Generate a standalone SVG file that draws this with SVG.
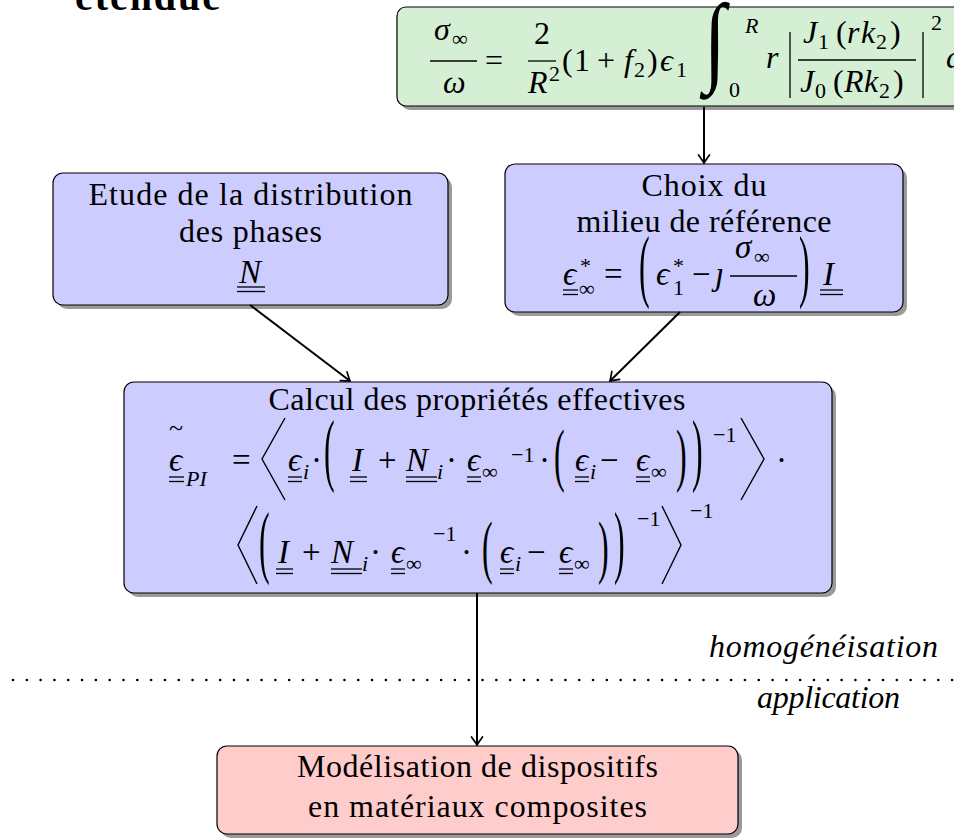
<svg xmlns="http://www.w3.org/2000/svg" width="954" height="839" viewBox="0 0 954 839">
<defs>
<style>
.tx{font-family:"Liberation Serif","DejaVu Serif",serif;font-size:32px;fill:#000}
.m{font-size:33px}
.it{font-style:italic}
.sm{font-size:22px}
.c{text-anchor:middle}
.ig{font-family:"Liberation Serif",serif;font-size:100px}
.ul{stroke:#000;stroke-width:1.3}
.bar{stroke:#000;stroke-width:1.3}
.dl{stroke:#000;stroke-width:1.4;fill:none;stroke-linejoin:miter}
.box{stroke:#000;stroke-width:1.2}
.sh{fill:#9a9a9a}
.con{stroke:#000;stroke-width:2;fill:none}
</style>
<marker id="ah" viewBox="-10 -7 12 14" refX="0" refY="0" markerWidth="12" markerHeight="14" orient="auto" markerUnits="userSpaceOnUse">
<path d="M -8 -5.5 Q -2.5 -1.5 0 0 Q -2.5 1.5 -8 5.5" fill="none" stroke="#000" stroke-width="1.7" stroke-linecap="round"/>
</marker>
</defs>
<rect width="954" height="839" fill="#fff"/>

<text class="tx" x="75" y="10" style="font-weight:bold;font-size:40px" textLength="145">étendue</text>

<g id="sigma">
<rect class="sh" x="401" y="11" width="600" height="99" rx="9"/>
<rect class="box" x="397" y="7" width="600" height="99" rx="9" fill="#d5efd5"/>
<text class="tx it" x="434" y="40">σ</text><text class="tx sm" x="452" y="46">∞</text>
<line class="bar" x1="430" y1="61" x2="477" y2="61"/>
<text class="tx it" x="443" y="93">ω</text>
<text class="tx" x="485" y="71">=</text>
<text class="tx" x="534" y="44">2</text>
<line class="bar" x1="528" y1="61" x2="556" y2="61"/>
<text class="tx it" x="528" y="93">R</text><text class="tx sm" x="549" y="81">2</text>
<text class="tx" x="562" y="71">(</text><text class="tx" x="574" y="71">1</text><text class="tx" x="597" y="71">+</text>
<text class="tx it" x="624" y="71">f</text><text class="tx sm" x="634" y="77">2</text><text class="tx" x="647" y="71">)</text>
<text class="tx it" x="660" y="71">ϵ</text><text class="tx sm" x="676" y="77">1</text>
<text class="ig" transform="translate(704,73) scale(0.8,1)">∫</text>
<text class="tx it sm" x="745" y="33">R</text>
<text class="tx sm" x="729" y="97">0</text>
<text class="tx it" x="766" y="68">r</text>
<line class="bar" x1="790" y1="32" x2="790" y2="98"/>
<text class="tx it" x="803" y="43">J</text><text class="tx sm" x="818" y="49">1</text><text class="tx" x="836" y="43">(</text><text class="tx it" x="847" y="43">r</text><text class="tx it" x="861" y="43">k</text><text class="tx sm" x="876" y="49">2</text><text class="tx" x="890" y="43">)</text>
<line class="bar" x1="798" y1="60" x2="916" y2="60"/>
<text class="tx it" x="800" y="92">J</text><text class="tx sm" x="815" y="98">0</text><text class="tx" x="833" y="92">(</text><text class="tx it" x="844" y="92">R</text><text class="tx it" x="864" y="92">k</text><text class="tx sm" x="879" y="98">2</text><text class="tx" x="893" y="92">)</text>
<line class="bar" x1="923" y1="32" x2="923" y2="98"/>
<text class="tx sm" x="931" y="30">2</text>
<text class="tx it" x="946" y="68">dr</text>
</g>

<g id="distribution">
<rect class="sh" x="57" y="177" width="395" height="132" rx="10"/>
<rect class="box" x="53" y="173" width="395" height="132" rx="10" fill="#ccccff"/>
<text class="tx c" x="250.5" y="205" textLength="324">Etude de la distribution</text>
<text class="tx c" x="250.5" y="242" textLength="143">des phases</text>
<text class="tx it m" x="239" y="283">N</text>
<line class="ul" x1="237" y1="287" x2="265" y2="287"/><line class="ul" x1="237" y1="291.5" x2="265" y2="291.5"/>
</g>

<g id="reference">
<rect class="sh" x="509" y="168" width="398" height="148" rx="10"/>
<rect class="box" x="505" y="164" width="398" height="148" rx="10" fill="#ccccff"/>
<text class="tx c" x="704" y="196" textLength="125">Choix du</text>
<text class="tx c" x="704" y="232" textLength="255">milieu de référence</text>
<text class="tx it m" x="563" y="285">ϵ</text><text class="tx sm" x="580" y="273">*</text><text class="tx sm" x="579" y="296">∞</text>
<line class="ul" x1="563" y1="290" x2="578" y2="290"/><line class="ul" x1="563" y1="294.5" x2="578" y2="294.5"/>
<text class="tx m" x="604" y="285">=</text>
<text class="tx" transform="translate(639,292) scale(1,2.5)">(</text>
<text class="tx it m" x="656" y="285">ϵ</text><text class="tx sm" x="673" y="273">*</text><text class="tx sm" x="673" y="295">1</text>
<text class="tx m" x="692" y="285">−</text>
<text class="tx it m" x="715" y="285">ȷ</text>
<text class="tx it m" x="735" y="258">σ</text><text class="tx sm" x="754" y="264">∞</text>
<line class="bar" x1="730" y1="276" x2="797" y2="276"/>
<text class="tx it m" x="753" y="306">ω</text>
<text class="tx" transform="translate(799,292) scale(1,2.5)">)</text>
<text class="tx it m" x="823" y="285">I</text>
<line class="ul" x1="820" y1="290" x2="843" y2="290"/><line class="ul" x1="820" y1="294.5" x2="843" y2="294.5"/>
</g>

<g id="calcul">
<rect class="sh" x="128" y="386" width="708" height="211" rx="10"/>
<rect class="box" x="124" y="382" width="708" height="211" rx="10" fill="#ccccff"/>
<text class="tx c" x="477" y="410" textLength="417">Calcul des propriétés effectives</text>
<!-- line 1 -->
<text class="tx" x="169" y="436" style="font-size:26px">~</text>
<text class="tx it m" x="169" y="471">ϵ</text>
<line class="ul" x1="169" y1="477" x2="184" y2="477"/><line class="ul" x1="169" y1="481.5" x2="184" y2="481.5"/>
<text class="tx it sm" x="186" y="486">PI</text>
<text class="tx m" x="232" y="471">=</text>
<polyline class="dl" points="285,418 262,459 285,500"/>
<text class="tx it m" x="288" y="471">ϵ</text><text class="tx it sm" x="303" y="479">i</text>
<line class="ul" x1="288" y1="477" x2="302" y2="477"/><line class="ul" x1="288" y1="481.5" x2="302" y2="481.5"/>
<text class="tx m" x="311" y="471">·</text>
<text class="tx" transform="translate(324,476) scale(1,2.5)">(</text>
<text class="tx it m" x="352" y="471">I</text>
<line class="ul" x1="350" y1="477" x2="367" y2="477"/><line class="ul" x1="350" y1="481.5" x2="367" y2="481.5"/>
<text class="tx m" x="378" y="471">+</text>
<text class="tx it m" x="406" y="471">N</text><text class="tx it sm" x="437" y="479">i</text>
<line class="ul" x1="406" y1="477" x2="437" y2="477"/><line class="ul" x1="406" y1="481.5" x2="437" y2="481.5"/>
<text class="tx m" x="446" y="471">·</text>
<text class="tx it m" x="467" y="471">ϵ</text><text class="tx sm" x="482" y="479">∞</text>
<line class="ul" x1="467" y1="477" x2="481" y2="477"/><line class="ul" x1="467" y1="481.5" x2="481" y2="481.5"/>
<text class="tx sm" x="511" y="462">−1</text>
<text class="tx m" x="539" y="471">·</text>
<text class="tx" transform="translate(554,478) scale(1,2.2)">(</text>
<text class="tx it m" x="575" y="471">ϵ</text><text class="tx it sm" x="590" y="479">i</text>
<line class="ul" x1="575" y1="477" x2="589" y2="477"/><line class="ul" x1="575" y1="481.5" x2="589" y2="481.5"/>
<text class="tx m" x="600" y="471">−</text>
<text class="tx it m" x="636" y="471">ϵ</text><text class="tx sm" x="651" y="479">∞</text>
<line class="ul" x1="636" y1="477" x2="650" y2="477"/><line class="ul" x1="636" y1="481.5" x2="650" y2="481.5"/>
<text class="tx" transform="translate(676,478) scale(1,2.2)">)</text>
<text class="tx" transform="translate(692,476) scale(1,2.5)">)</text>
<text class="tx sm" x="713" y="442">−1</text>
<polyline class="dl" points="741,418 764,459 741,500"/>
<text class="tx m" x="776" y="471">·</text>
<!-- line 2 -->
<polyline class="dl" points="257,506 238,545 257,584"/>
<text class="tx" transform="translate(259,568) scale(1,2.5)">(</text>
<text class="tx it m" x="278" y="563">I</text>
<line class="ul" x1="276" y1="569" x2="293" y2="569"/><line class="ul" x1="276" y1="573.5" x2="293" y2="573.5"/>
<text class="tx m" x="302" y="563">+</text>
<text class="tx it m" x="331" y="563">N</text><text class="tx it sm" x="362" y="571">i</text>
<line class="ul" x1="331" y1="569" x2="362" y2="569"/><line class="ul" x1="331" y1="573.5" x2="362" y2="573.5"/>
<text class="tx m" x="370" y="563">·</text>
<text class="tx it m" x="391" y="563">ϵ</text><text class="tx sm" x="406" y="571">∞</text>
<line class="ul" x1="391" y1="569" x2="405" y2="569"/><line class="ul" x1="391" y1="573.5" x2="405" y2="573.5"/>
<text class="tx sm" x="433" y="541">−1</text>
<text class="tx m" x="461" y="563">·</text>
<text class="tx" transform="translate(482,570) scale(1,2.2)">(</text>
<text class="tx it m" x="500" y="563">ϵ</text><text class="tx it sm" x="515" y="571">i</text>
<line class="ul" x1="500" y1="569" x2="514" y2="569"/><line class="ul" x1="500" y1="573.5" x2="514" y2="573.5"/>
<text class="tx m" x="527" y="563">−</text>
<text class="tx it m" x="559" y="563">ϵ</text><text class="tx sm" x="574" y="571">∞</text>
<line class="ul" x1="559" y1="569" x2="573" y2="569"/><line class="ul" x1="559" y1="573.5" x2="573" y2="573.5"/>
<text class="tx" transform="translate(598,570) scale(1,2.2)">)</text>
<text class="tx" transform="translate(614,568) scale(1,2.5)">)</text>
<text class="tx sm" x="637" y="526">−1</text>
<polyline class="dl" points="662,506 681,545 662,584"/>
<text class="tx sm" x="690" y="518">−1</text>
</g>

<g id="application">
<rect class="sh" x="221" y="750" width="521" height="88" rx="10"/>
<rect class="box" x="217" y="746" width="521" height="88" rx="10" fill="#ffcccc"/>
<text class="tx c" x="477.5" y="777" textLength="361">Modélisation de dispositifs</text>
<text class="tx c" x="477.5" y="817" textLength="339">en matériaux composites</text>
</g>

<g id="separator">
<line x1="13" y1="680" x2="954" y2="680" stroke="#000" stroke-width="2.6" stroke-linecap="round" stroke-dasharray="0.01 13.8"/>
<text class="tx it" x="709" y="657" textLength="229">homogénéisation</text>
<text class="tx it" x="757" y="708" textLength="143">application</text>
</g>

<g id="connectors">
<line class="con" x1="704" y1="107" x2="704" y2="163" marker-end="url(#ah)"/>
<line class="con" x1="250" y1="305" x2="350" y2="381" marker-end="url(#ah)"/>
<line class="con" x1="680" y1="312" x2="610" y2="381" marker-end="url(#ah)"/>
<line class="con" x1="477" y1="593" x2="477" y2="745" marker-end="url(#ah)"/>
</g>
</svg>
